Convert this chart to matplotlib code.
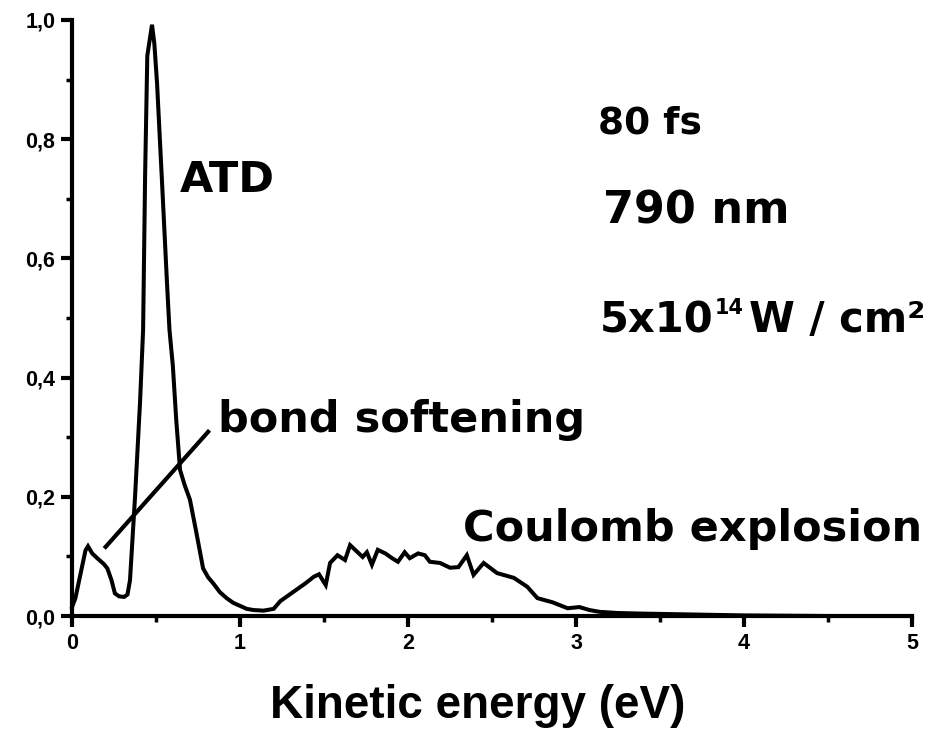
import matplotlib.pyplot as plt
from matplotlib.ticker import MultipleLocator, FuncFormatter

# Kinetic energy spectrum (eV) and normalised yield
energy = [0.0, 0.02, 0.05, 0.08, 0.095, 0.12, 0.15, 0.19, 0.21, 0.235, 0.255,
          0.28, 0.31, 0.33, 0.345, 0.36, 0.375, 0.39, 0.405, 0.423, 0.435,
          0.448, 0.476, 0.49, 0.506, 0.536, 0.565, 0.58, 0.60, 0.62, 0.643,
          0.67, 0.702, 0.74, 0.78, 0.81, 0.84, 0.88, 0.92, 0.96, 1.0, 1.04,
          1.08, 1.14, 1.2, 1.24, 1.29, 1.34, 1.39, 1.44, 1.47, 1.51, 1.536,
          1.58, 1.625, 1.655, 1.70, 1.73, 1.755, 1.785, 1.82, 1.865, 1.905,
          1.94, 1.98, 2.01, 2.06, 2.10, 2.13, 2.19, 2.25, 2.30, 2.35, 2.39,
          2.45, 2.53, 2.63, 2.71, 2.77, 2.86, 2.95, 3.02, 3.08, 3.14, 3.25,
          3.4, 3.6, 3.8, 4.0, 4.5, 5.0]
signal = [0.015, 0.03, 0.07, 0.11, 0.117, 0.105, 0.097, 0.087, 0.08, 0.06, 0.038,
          0.033, 0.032, 0.036, 0.06, 0.13, 0.2, 0.28, 0.36, 0.48, 0.74,
          0.94, 0.992, 0.96, 0.894, 0.726, 0.56, 0.48, 0.42, 0.33, 0.245,
          0.22, 0.195, 0.14, 0.08, 0.065, 0.055, 0.04, 0.03, 0.022, 0.017, 0.012,
          0.01, 0.009, 0.012, 0.025, 0.035, 0.045, 0.055, 0.066, 0.07, 0.052, 0.089,
          0.102, 0.094, 0.119, 0.107, 0.099, 0.107, 0.086, 0.111, 0.105, 0.097,
          0.091, 0.107, 0.097, 0.105, 0.102, 0.091, 0.089, 0.081, 0.082, 0.102, 0.069,
          0.089, 0.072, 0.064, 0.049, 0.03, 0.023, 0.013, 0.015, 0.01, 0.007, 0.005,
          0.004, 0.003, 0.002, 0.001, 0.0, 0.0]

# pointer line for the bond softening label
pointer_x = [0.20, 0.81]
pointer_y = [0.116, 0.309]

fig = plt.figure(figsize=(9.38, 7.29), dpi=100)
ax = fig.add_axes([0.0768, 0.155, 0.8955, 0.8176])

ax.plot(energy, signal, color='black', lw=2.9, solid_joinstyle='miter', clip_on=False)
ax.plot(pointer_x, pointer_y, color='black', lw=3)

ax.set_xlim(0, 5)
ax.set_ylim(0, 1.0)

for side in ['top', 'right']:
    ax.spines[side].set_visible(False)
for side in ['left', 'bottom']:
    ax.spines[side].set_linewidth(3)

ax.xaxis.set_major_locator(MultipleLocator(1))
ax.xaxis.set_minor_locator(MultipleLocator(0.5))
ax.yaxis.set_major_locator(MultipleLocator(0.2))
ax.yaxis.set_minor_locator(MultipleLocator(0.1))
ax.yaxis.set_major_formatter(FuncFormatter(lambda v, p: f'{v:.1f}'.replace('.', ',')))

ax.tick_params(which='major', direction='out', length=8, width=3, pad=4)
ax.tick_params(which='minor', direction='out', length=4.5, width=2.5)
for lab in ax.get_xticklabels() + ax.get_yticklabels():
    lab.set_fontfamily('Liberation Sans')
    lab.set_fontweight('bold')
    lab.set_fontsize(15.5)

xl = ax.set_xlabel('Kinetic energy (eV)', fontfamily='Liberation Sans', fontweight='bold',
                   fontsize=33)
xl.set_va('baseline')
ax.xaxis.set_label_coords(0.483, -0.171)

lbl = dict(fontfamily='DejaVu Sans', fontweight='bold', color='black')
ax.text(0.643, 0.732, 'ATD', fontsize=31, va='center', **lbl)
ax.text(0.869, 0.309, 'bond softening', fontsize=31, va='baseline', **lbl)
ax.text(2.327, 0.126, 'Coulomb explosion', fontsize=31, va='baseline', **lbl)
ax.text(3.13, 0.81, '80 fs', fontsize=27, va='baseline', **lbl)
ax.text(3.16, 0.659, '790 nm', fontsize=32, va='baseline', **lbl)

# intensity label: base, small raised exponent, then units
base = ax.text(3.14, 0.476, '5x10', fontsize=30, va='baseline', **lbl)
expo = ax.annotate('14', xy=(1, 0.476), xycoords=(base, 'data'), xytext=(1, 13),
                   textcoords='offset points', fontsize=15, va='baseline', ha='left', **lbl)
ax.annotate('W / cm²', xy=(1, 0.476), xycoords=(expo, 'data'), xytext=(4, 0),
            textcoords='offset points', fontsize=30, va='baseline', ha='left', **lbl)

fig.savefig('out.png', dpi=100)
